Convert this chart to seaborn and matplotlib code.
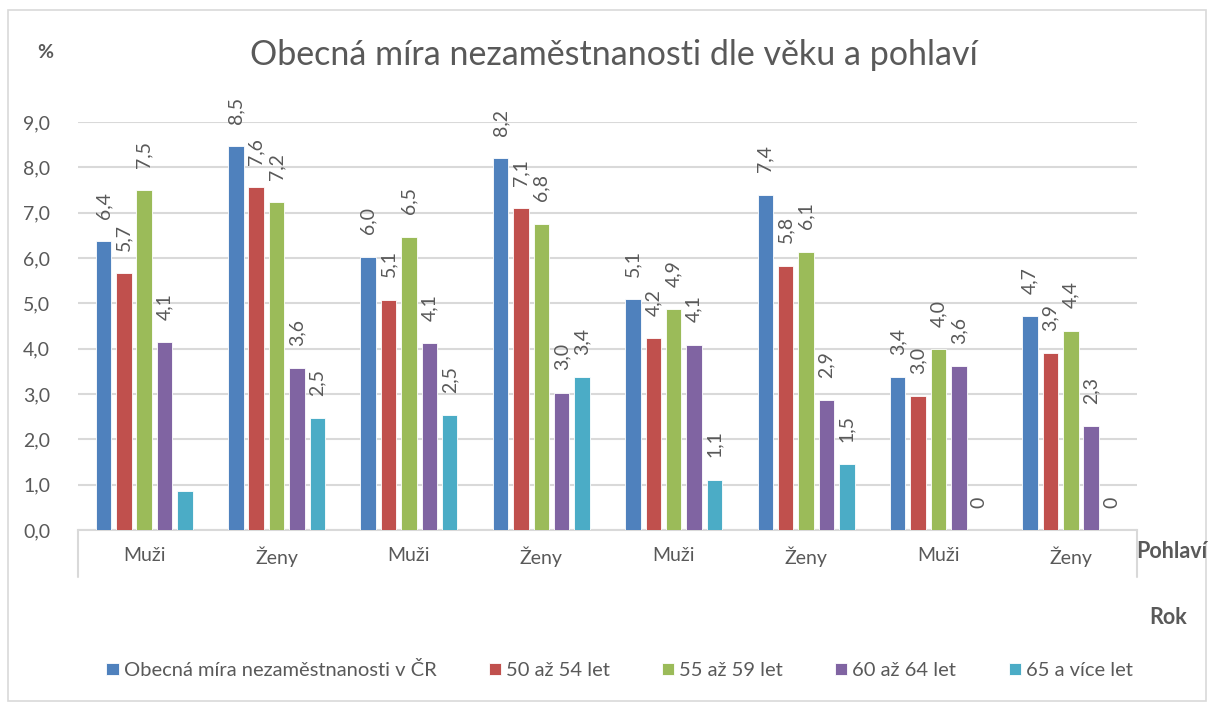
import pandas as pd
import numpy as np
import matplotlib
matplotlib.use("Agg")
import matplotlib.pyplot as plt
import seaborn as sns
from matplotlib.patches import Rectangle
from matplotlib.lines import Line2D

# hodnoty (%)
pohlavi = ["Muži", "Ženy", "Muži", "Ženy", "Muži", "Ženy", "Muži", "Ženy"]
serie = ["Obecná míra nezaměstnanosti v ČR", "50 až 54 let", "55 až 59 let",
         "60 až 64 let", "65 a více let"]
obecna = [6.38, 8.46, 6.03, 8.21, 5.10, 7.40, 3.38, 4.71]
vek_50_54 = [5.66, 7.57, 5.08, 7.10, 4.24, 5.83, 2.96, 3.90]
vek_55_59 = [7.49, 7.24, 6.47, 6.76, 4.87, 6.14, 3.99, 4.40]
vek_60_64 = [4.14, 3.57, 4.13, 3.03, 4.09, 2.86, 3.61, 2.30]
vek_65 = [0.85, 2.46, 2.53, 3.37, 1.11, 1.46, 0.0, 0.0]
# popisek, ktery v originale chybi (serie, skupina)
skryte_popisky = [(4, 0)]

barvy = ["#4F81BD", "#C0504D", "#9BBB59", "#8064A2", "#4BACC6"]
sedy_text = "#595959"

hodnoty = [obecna, vek_50_54, vek_55_59, vek_60_64, vek_65]
rows = []
for s, vals in zip(serie, hodnoty):
    for i, v in enumerate(vals):
        rows.append({"skupina": i, "serie": s, "hodnota": v})
df = pd.DataFrame(rows)

sns.set_theme(style="white")
plt.rcParams["font.family"] = ["Lato", "DejaVu Sans"]

fig = plt.figure(figsize=(12.1, 7.04), dpi=100)
ax = fig.add_axes([78 / 1210, 1 - 530 / 704, (1137 - 78) / 1210, (530 - 122) / 704])

sns.barplot(data=df, x="skupina", y="hodnota", hue="serie", hue_order=serie,
            palette=barvy, width=0.77, gap=0.24, saturation=1, ax=ax,
            edgecolor="white", linewidth=0.6, zorder=3)

handles, labels = ax.get_legend_handles_labels()
ax.legend_.remove()

def fmt(v):
    if v == 0:
        return "0"
    return f"{v:.1f}".replace(".", ",")

for si, cont in enumerate(ax.containers):
    texts = []
    for gi, v in enumerate(hodnoty[si]):
        texts.append("" if (si, gi) in skryte_popisky else fmt(v))
    ax.bar_label(cont, labels=texts, rotation=90, padding=16,
                 fontsize=14, color=sedy_text)

ax.set_ylim(0, 9)
ax.set_yticks(np.arange(0, 9.5, 1))
ax.set_yticklabels([f"{t:.1f}".replace(".", ",") for t in np.arange(0, 9.5, 1)])
ax.set_xticks(range(len(pohlavi)))
ax.set_xticklabels(pohlavi)
ax.set_xlabel("")
ax.set_ylabel("")
ax.tick_params(axis="y", length=0, pad=20, labelsize=14, labelcolor=sedy_text)
ax.tick_params(axis="x", length=0, pad=12, labelsize=14, labelcolor=sedy_text)
ax.grid(axis="y", color="#D9D9D9", linewidth=1.5, zorder=0)
ax.set_axisbelow(True)
for side in ["left", "right", "top"]:
    ax.spines[side].set_visible(False)
ax.spines["bottom"].set_color("#D9D9D9")
ax.spines["bottom"].set_linewidth(1.5)

# oddelovace kategorii pod osou
for xa in [0, 1]:
    ax.add_line(Line2D([xa, xa], [0, -47 / 408], transform=ax.transAxes,
                       color="#D9D9D9", linewidth=1.5, clip_on=False))

fig.text(614 / 1210, 1 - 55 / 704, "Obecná míra nezaměstnanosti dle věku a pohlaví",
         ha="center", va="center", fontsize=24.5, color=sedy_text)
fig.text(45 / 1210, 1 - 52 / 704, "%", ha="center", va="center",
         fontsize=14, fontweight="bold", color=sedy_text)
fig.text(1172 / 1210, 1 - 552 / 704, "Pohlaví", ha="center", va="center",
         fontsize=15.5, fontweight="bold", color=sedy_text)
fig.text(1168 / 1210, 1 - 617 / 704, "Rok", ha="center", va="center",
         fontsize=15.5, fontweight="bold", color=sedy_text)

fig.legend(handles, labels, loc="center", bbox_to_anchor=(0.512, 1 - 670 / 704),
           ncol=5, frameon=False, fontsize=14.5, handlelength=0.6,
           handleheight=0.6, handletextpad=0.25, columnspacing=2.6,
           labelcolor=sedy_text)

fig.patches.append(Rectangle((8 / 1210, 0.004), 1 - 12 / 1210, 1 - 10 / 704 - 0.004,
                             transform=fig.transFigure, fill=False,
                             edgecolor="#D9D9D9", linewidth=1.2))

fig.savefig("out.png", dpi=100)
